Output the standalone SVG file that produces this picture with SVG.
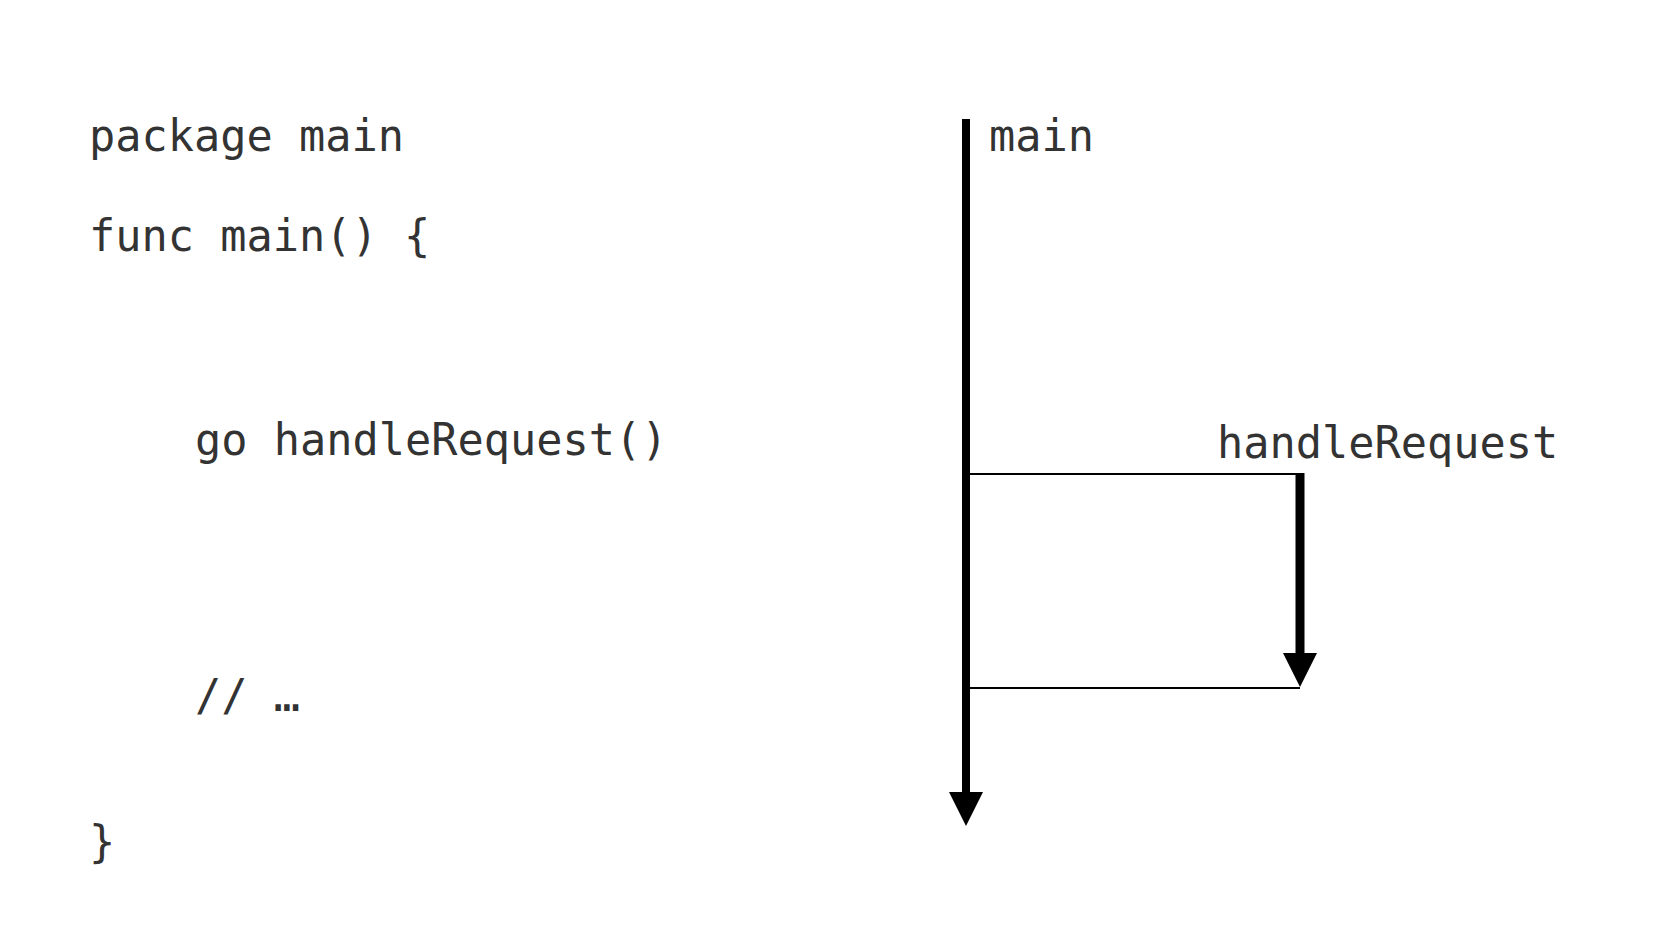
<svg xmlns="http://www.w3.org/2000/svg" width="1680" height="945" viewBox="0 0 1680 945">
<style>
  .code { font-family: "DejaVu Sans Mono", "Liberation Mono", monospace; font-size: 43.6px; fill: #333333; }
  .thick { stroke: #000; fill: none; }
  .thin { stroke: #000; stroke-width: 2; fill: none; }
  .head { fill: #000; }
</style>
<rect width="1680" height="945" fill="#ffffff"/>
<g id="code">
  <text class="code" x="89" y="151">package main</text>
  <text class="code" x="89" y="251">func main() {</text>
  <text class="code" x="195" y="455">go handleRequest()</text>
  <text class="code" x="195" y="711">// …</text>
  <text class="code" x="89" y="857">}</text>
</g>
<g id="main-thread">
  <text class="code" x="989" y="151">main</text>
</g>
<g id="handleRequest-thread">
  <text class="code" x="1217" y="458">handleRequest</text>
</g>
<g id="connectors">
  <line class="thick" x1="966" y1="119" x2="966" y2="796" stroke-width="8"/>
  <polygon class="head" points="949,792 983,792 966,826"/>
  <line class="thin" x1="966" y1="474" x2="1304" y2="474"/>
  <line class="thick" x1="1300" y1="473" x2="1300" y2="657" stroke-width="9"/>
  <polygon class="head" points="1283,653 1317,653 1300,687"/>
  <line class="thin" x1="966" y1="688" x2="1300" y2="688"/>
</g>
</svg>
